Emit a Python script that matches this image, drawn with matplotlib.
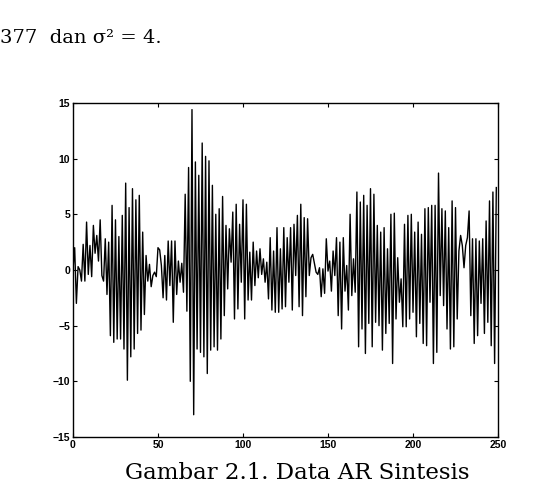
import numpy as np
import matplotlib
matplotlib.use("Agg")
from matplotlib import pyplot as plt

# values, one per sample (0..249)
seg_a = [0, 2.0, -3.0, 0.3, 0, -1, 2.3, -1, 4.3, -0.4,
         2.2, -0.6, 4.0, 1.5, 3.1, 0.8, 4.5, -0.5, -1, 2.8,
         -2.2, 2.5, -5.9, 5.8, -6.5, 4.5, -6.2, 3.0, -6.2, 4.9,
         -7.1, 7.8, -9.9, 5.6, -7.8, 7.3, -7.1, 6.3, -5.7, 6.7,
         -5.4, 3.4, -4.0, 1.3, -1, 0.5, -1.5, -0.5, -0.2, -0.6,
         2.0, 1.8, 0.4, -2.5, 1.3, -2.7, 2.6, -1.4, 2.6, -4.7,
         2.6, -2.2, 0.8, -1.1, 0.6, -2, 6.8, -3.7, 9.2, -10,
         14.4, -13, 9.7, -7.1]
seg_b = [8.5, -7.4, 11.4, -7.8, 10.2, -9.3, 9.8, -7.2, 7.6, -6.9,
         5.0, -7.2, 5.5, -6.2, 6.6, -4.1, 4.0, -1.7, 3.7, 0.7,
         5.2, -4.4, 5.9, -3.5, 4.1, -1.1, 6.3, -4.4, 5.9, -2.7,
         1.6, -2.7, 2.5, -1.4, 1.7, -0.7, 1.9, -0.4, 1.0, -1.1,
         0.7, -2.6, 2.9, -3.6, 1.7, -3.8, 3.8, -3.8, 1.9, -3.5,
         3.8, -3.3, 2.9, -1.1, 3.8, -3.6, 4.1, -0.5, 4.9, -3.3,
         5.9, -4.1, 4.7, -2.4, 4.6, -0.5]
seg_c = [1.1, 1.4, 0.6, -0.2, -0.4, 0.2, -2.4, 0.1, -2.1, 2.8,
         -0.1, 0.8, -1.9, 1.7, -0.5, 2.9, -4.1]
seg_d = [2.5, -5.3, 2.9, -1.9, 0.4, -3.6, 5.0, -2.3, 1.0, -2.0,
         7.0, -6.9, 6.1, -5.3, 6.7, -7.5, 5.8, -4.8, 7.3, -6.9,
         6.8, -4.7, 4.0, -5.0, 3.4, -7.2, 3.8, -5.7, 1.9, -4.8,
         5.0, -8.4, 5.1, -4.4, 1.1, -2.9, -0.8, -5.1, 4.1, -5.1,
         4.9, -4.4, 5.0, -3.8, 3.4, -6.0, 4.3, -4.8, 3.2, -6.6,
         5.5, -6.8, 5.6, -2.9, 5.8, -8.4, 5.8, -7.4, 8.7, -2.3,
         5.5, -3.2, 5.3, -5.3, 3.8, -7.1, 6.2, -6.9, 5.6, -4.4,
         1.7, 3.1, 2.2, 0.2, 2.2, 2.9, 5.3, -4.1, 2.8, -6.6,
         2.8, -5.9, 2.6, -3.0, 2.8, -5.7, 4.4, -4.7, 6.2, -6.8,
         7.0, -8.4, 7.4]

y = np.array(seg_a + seg_b + seg_c + seg_d)
x = np.arange(len(y))

x_ticks = [0, 50, 100, 150, 200, 250]
y_ticks = [-15, -10, -5, 0, 5, 10, 15]

fig = plt.figure(figsize=(5.52, 4.92), dpi=100)
fig.patch.set_facecolor("white")

ax = fig.add_axes([0.1322, 0.1118, 0.770, 0.679])
ax.plot(x, y, color="black", linewidth=1.0)
ax.set_xlim(0, 250)
ax.set_ylim(-15, 15)
ax.set_xticks(x_ticks)
ax.set_yticks(y_ticks)
ax.tick_params(direction="in", top=True, right=True, length=3, width=0.8,
               labelsize=7.5, pad=2)
for lab in ax.get_xticklabels() + ax.get_yticklabels():
    lab.set_fontweight("bold")
    lab.set_family("Liberation Sans")
for s in ax.spines.values():
    s.set_linewidth(1.0)

fig.text(0.0, 0.922, "377  dan σ² = 4.", family="DejaVu Serif",
         fontsize=14, va="center", ha="left")
fig.text(0.538, 0.038, "Gambar 2.1. Data AR Sintesis", family="DejaVu Serif",
         fontsize=16.5, va="center", ha="center")

fig.savefig("out.png", dpi=100)
